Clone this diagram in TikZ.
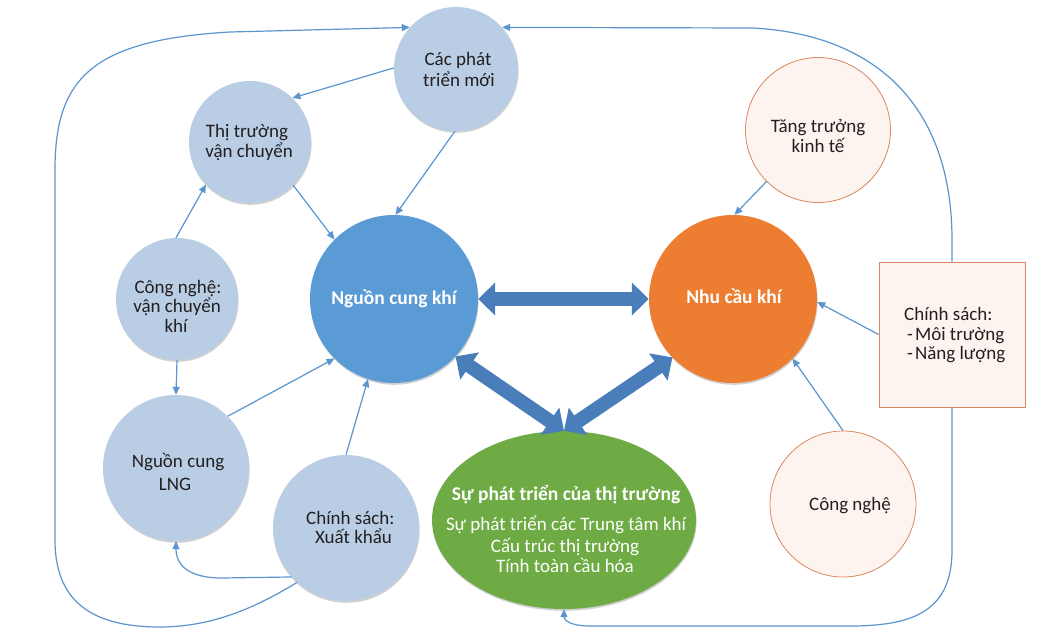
\documentclass[tikz,border=0pt]{standalone}
\usepackage{fontspec}
\setmainfont{Carlito}
\usetikzlibrary{arrows.meta,shapes.geometric,shadows}
\definecolor{lb}{HTML}{B9CDE5}
\definecolor{mb}{HTML}{5B9BD5}
\definecolor{org}{HTML}{ED7D31}
\definecolor{grn}{HTML}{6EAB44}
\definecolor{ln}{HTML}{5B95CF}
\definecolor{thk}{HTML}{4A7EBB}
\definecolor{txc}{HTML}{231F20}
\definecolor{pk}{HTML}{FDF4F0}
\definecolor{pkb}{HTML}{D9885F}
\begin{document}
\begin{tikzpicture}[x=1pt,y=-1pt,
  shd/.style={drop shadow={shadow xshift=0.6pt,shadow yshift=-1.8pt,opacity=0.3,fill=black!60}},
  circ/.style={circle,inner sep=0pt,fill=lb,shd},
  big/.style={circle,inner sep=0pt,minimum size=168pt,shd},
  pkc/.style={circle,inner sep=0pt,fill=pk,draw=pkb,line width=0.8pt},
  tx/.style={anchor=base,text=txc,inner sep=0pt,font=\fontsize{19}{22}\selectfont},
  txl/.style={tx,anchor=base west},
  btx/.style={anchor=base,text=white,inner sep=0pt,font=\fontsize{19.5}{22}\selectfont\bfseries},
  wtx/.style={anchor=base,text=white,inner sep=0pt,font=\fontsize{19}{22}\selectfont},
  con/.style={draw=ln,line width=1.2pt,-{Triangle[length=8pt,width=7pt]}},
  dbl/.style={draw=thk,line width=14pt,{Triangle[length=17pt,width=32pt]}-{Triangle[length=17pt,width=32pt]}}
]
\useasboundingbox (0,0) rectangle (1042,637);
\fill[white] (0,0) rectangle (1042,637);

% nodes
\node[circ,minimum size=124pt] (cp) at (456,69) {};
\node[circ,minimum size=122pt] (tt) at (250,142) {};
\node[circ,minimum size=122pt] (cn) at (177,299) {};
\node[circ,minimum size=146pt] (lng) at (176,468) {};
\node[circ,minimum size=146pt] (xk) at (346,528) {};
\node[big,fill=mb] (nk) at (394,299) {};
\node[big,fill=org] (nc) at (733,299) {};
\node[pkc,minimum size=145pt] (tk) at (818,130) {};
\node[pkc,minimum size=146pt] (cn2) at (843,504) {};
\node[ellipse,inner sep=0pt,minimum width=264pt,minimum height=178pt,fill=grn,shd] (gr) at (564,520) {};
\node[rectangle,inner sep=0pt,minimum width=146pt,minimum height=145pt,fill=pk,draw=pkb,line width=0.8pt] (bx) at (952,334.5) {};

% texts
\node[tx] (t1a) at (458,65) {Các phát};
\node[tx] (t1b) at (459,86) {triển mới};
\node[tx] (t2a) at (247,137) {Thị trường};
\node[tx] (t2b) at (249,157) {vận chuyển};
\node[tx] (t3a) at (178,293) {Công nghệ:};
\node[tx] (t3b) at (177,312) {vận chuyển};
\node[tx] (t3c) at (176,332) {khí};
\node[tx] (t4a) at (178,467) {Nguồn cung};
\node[tx] (t4b) at (175,490) {LNG};
\node[txl] (t5a) at (306,524) {Chính sách:};
\node[txl] (t5b) at (315,543) {Xuất khẩu};
\node[btx] (t6) at (394,304) {Nguồn cung khí};
\node[btx] (t7) at (734,303) {Nhu cầu khí};
\node[tx] (t8a) at (818,132) {Tăng trưởng};
\node[tx] (t8b) at (818,152) {kinh tế};
\node[tx] (t9) at (850,510) {Công nghệ};
\node[btx] (g1) at (566,500) {Sự phát triển của thị trường};
\node[wtx] (g2) at (566,530) {Sự phát triển các Trung tâm khí};
\node[wtx] (g3) at (565,552) {Cấu trúc thị trường};
\node[wtx] (g4) at (565,572) {Tính toàn cầu hóa};
\node[txl] (b1) at (904,320) {Chính sách:};
\node[txl] (b2) at (907,340) {-\hspace{2pt}Môi trường};
\node[txl] (b3) at (907,359) {-\hspace{2pt}Năng lượng};

% thin connectors
\draw[con] (cp.179) -- (tt.46);
\draw[con] (cp.269) -- (nk.89);
\draw[con] (tt.-45) -- (nk.135);
\draw[con] (cn.91) -- (tt.224);
\draw[con] (cn.-90) -- (lng.90);
\draw[con] (lng.45) -- (nk.225);
\draw[con] (xk.90) -- (nk.252);
\draw[con] (xk.222) -- (222,578) .. controls (190,578) and (176,566) .. (lng.270);
\draw[con] (xk.228) .. controls (260,605) and (215,627) .. (160,627)
   .. controls (90,627) and (55,600) .. (55,540) -- (55,170)
   .. controls (55,80) and (90,40) .. (230,32) -- (cp.138);
\draw[con] (tk.225) -- (nc.89);
\draw[con] (bx.west) -- (nc.-2);
\draw[con] (cn2.90) -- (nc.-45);
\draw[con] (bx.north) -- (952,240) .. controls (952,110) and (880,35) .. (753,28) -- (cp.42);
\draw[con] (bx.south) -- (952,550) .. controls (952,610) and (915,626) .. (850,626)
   -- (590,626) .. controls (570,626) and (564,620) .. (gr.south);

% thick double arrows
\draw[dbl] (nk.east) -- (nc.west);
\draw[dbl] (nk.-43) -- (gr.north);
\draw[dbl] (nc.224) -- (gr.north);
\end{tikzpicture}
\end{document}
